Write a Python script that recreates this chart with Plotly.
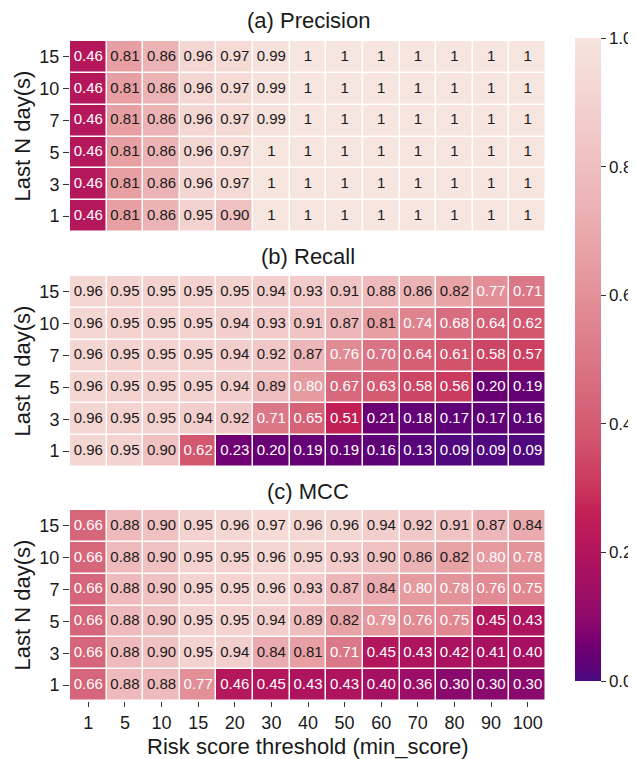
import numpy as np
import plotly.graph_objects as go

thresholds = ["1", "5", "10", "15", "20", "30", "40", "50", "60", "70", "80", "90", "100"]
last_days = ["15", "10", "7", "5", "3", "1"]

precision = [
    [0.46, 0.81, 0.86, 0.96, 0.97, 0.99, 1, 1, 1, 1, 1, 1, 1],
    [0.46, 0.81, 0.86, 0.96, 0.97, 0.99, 1, 1, 1, 1, 1, 1, 1],
    [0.46, 0.81, 0.86, 0.96, 0.97, 0.99, 1, 1, 1, 1, 1, 1, 1],
    [0.46, 0.81, 0.86, 0.96, 0.97, 1, 1, 1, 1, 1, 1, 1, 1],
    [0.46, 0.81, 0.86, 0.96, 0.97, 1, 1, 1, 1, 1, 1, 1, 1],
    [0.46, 0.81, 0.86, 0.95, 0.90, 1, 1, 1, 1, 1, 1, 1, 1],
]
recall = [
    [0.96, 0.95, 0.95, 0.95, 0.95, 0.94, 0.93, 0.91, 0.88, 0.86, 0.82, 0.77, 0.71],
    [0.96, 0.95, 0.95, 0.95, 0.94, 0.93, 0.91, 0.87, 0.81, 0.74, 0.68, 0.64, 0.62],
    [0.96, 0.95, 0.95, 0.95, 0.94, 0.92, 0.87, 0.76, 0.70, 0.64, 0.61, 0.58, 0.57],
    [0.96, 0.95, 0.95, 0.95, 0.94, 0.89, 0.80, 0.67, 0.63, 0.58, 0.56, 0.20, 0.19],
    [0.96, 0.95, 0.95, 0.94, 0.92, 0.71, 0.65, 0.51, 0.21, 0.18, 0.17, 0.17, 0.16],
    [0.96, 0.95, 0.90, 0.62, 0.23, 0.20, 0.19, 0.19, 0.16, 0.13, 0.09, 0.09, 0.09],
]
mcc = [
    [0.66, 0.88, 0.90, 0.95, 0.96, 0.97, 0.96, 0.96, 0.94, 0.92, 0.91, 0.87, 0.84],
    [0.66, 0.88, 0.90, 0.95, 0.95, 0.96, 0.95, 0.93, 0.90, 0.86, 0.82, 0.80, 0.78],
    [0.66, 0.88, 0.90, 0.95, 0.95, 0.96, 0.93, 0.87, 0.84, 0.80, 0.78, 0.76, 0.75],
    [0.66, 0.88, 0.90, 0.95, 0.95, 0.94, 0.89, 0.82, 0.79, 0.76, 0.75, 0.45, 0.43],
    [0.66, 0.88, 0.90, 0.95, 0.94, 0.84, 0.81, 0.71, 0.45, 0.43, 0.42, 0.41, 0.40],
    [0.66, 0.88, 0.88, 0.77, 0.46, 0.45, 0.43, 0.43, 0.40, 0.36, 0.30, 0.30, 0.30],
]
panel_titles = ["(a) Precision", "(b) Recall", "(c) MCC"]

colorscale = [
    [0.0, "#470b80"], [0.02, "#5a0379"], [0.04, "#680074"], [0.06, "#740072"],
    [0.09, "#8a096c"], [0.13, "#9b0d66"], [0.17, "#a81160"], [0.21, "#b5175b"],
    [0.26, "#c21f56"], [0.31, "#ca3a5e"], [0.38, "#d2566e"], [0.44, "#d6677b"],
    [0.5, "#db7787"], [0.59, "#e28e96"], [0.66, "#e7a0a5"], [0.74, "#ecb3b5"],
    [0.81, "#f0c1c1"], [0.90, "#f3d2d0"], [1.0, "#f7e5df"],
]

FONT = "Liberation Sans, Arial, sans-serif"
OFF = 8  # page body margin
W, H = 636 - OFF, 759 - OFF
# plot area in window pixels: x 70..546, y 41..701
ml, mt = 70 - OFF, 41 - OFF
mr, mb = W - (546 - OFF), H - (701 - OFF)
pw, ph = W - ml - mr, H - mt - mb

def py(y):  # window pixel y -> paper y
    return (H - mb - (y - OFF)) / ph

def px(x):
    return (x - OFF - ml) / pw

panel_px = [(41, 232), (276, 467), (510, 701)]
title_y = [20, 256, 491]

fig = go.Figure()
layout = dict(
    width=W, height=H,
    margin=dict(l=ml, r=mr, t=mt, b=mb, autoexpand=False),
    paper_bgcolor="white", plot_bgcolor="white",
    showlegend=False,
    font=dict(family=FONT, color="#1a1a1a"),
    coloraxis=dict(
        colorscale=colorscale, cmin=0, cmax=1,
        colorbar=dict(
            x=px(575), xanchor="left", xpad=0, ypad=0, thickness=26,
            len=643, lenmode="pixels", y=py(359.5), yanchor="middle",
            outlinewidth=0, ticks="outside", ticklen=5, tickwidth=1, tickcolor="#333",
            tickvals=[0, 0.2, 0.4, 0.6, 0.8, 1.0],
            ticktext=["0.0", "0.2", "0.4", "0.6", "0.8", "1.0"],
            tickfont=dict(size=17, family=FONT, color="#1a1a1a"),
        ),
    ),
)
annotations = []
nx, ny = len(thresholds), len(last_days)

for i, data in enumerate([precision, recall, mcc]):
    arr = np.array(data, dtype=float)
    xa = "x" if i == 0 else f"x{i+1}"
    ya = "y" if i == 0 else f"y{i+1}"
    # power-law colour normalisation (gamma = 2)
    fig.add_trace(go.Heatmap(
        z=arr ** 2, x=thresholds, y=last_days, coloraxis="coloraxis",
        xgap=1.5, ygap=1.5, xaxis=xa, yaxis=ya, hoverinfo="skip",
    ))
    xs, ys, texts, cols = [], [], [], []
    for r, day in enumerate(last_days):
        for c, th in enumerate(thresholds):
            v = arr[r, c]
            xs.append(th)
            ys.append(day)
            texts.append("1" if v == 1 else f"{v:.2f}")
            cols.append("#1a1a1a" if v >= 0.805 else "white")
    fig.add_trace(go.Scatter(
        x=xs, y=ys, mode="text", text=texts,
        textfont=dict(size=15, family=FONT, color=cols),
        xaxis=xa, yaxis=ya, hoverinfo="skip", cliponaxis=False,
    ))
    top, bot = panel_px[i]
    xkey = "xaxis" if i == 0 else f"xaxis{i+1}"
    ykey = "yaxis" if i == 0 else f"yaxis{i+1}"
    last = i == 2
    layout[xkey] = dict(
        domain=[0, 1], anchor=ya, type="category",
        range=[-0.5, nx - 0.5], autorange=False,
        showgrid=False, zeroline=False, showline=False,
        showticklabels=last, ticks="outside" if last else "",
        ticklen=5, tickwidth=1, tickcolor="#333",
        tickfont=dict(size=18, family=FONT, color="#1a1a1a"),
    )
    layout[ykey] = dict(
        domain=[py(bot), py(top)], anchor=xa, type="category",
        range=[ny - 0.5, -0.5], autorange=False,
        showgrid=False, zeroline=False, showline=False,
        ticks="outside", ticklen=6, tickwidth=1, tickcolor="#333",
        tickfont=dict(size=18, family=FONT, color="#1a1a1a"),
    )
    annotations.append(dict(
        text=panel_titles[i], xref="paper", yref="paper",
        x=0.5, y=py(title_y[i]), xanchor="center", yanchor="middle",
        showarrow=False, font=dict(size=22, family=FONT, color="#1a1a1a"),
    ))
    annotations.append(dict(
        text="Last N day(s)", xref="paper", yref="paper",
        x=px(22), y=py((top + bot) / 2), xanchor="center", yanchor="middle",
        textangle=-90, showarrow=False,
        font=dict(size=22, family=FONT, color="#1a1a1a"),
    ))

annotations.append(dict(
    text="Risk score threshold (min_score)", xref="paper", yref="paper",
    x=0.5, y=py(746), xanchor="center", yanchor="middle",
    showarrow=False, font=dict(size=22, family=FONT, color="#1a1a1a"),
))
layout["annotations"] = annotations
fig.update_layout(**layout)
fig.write_html("out.html")
